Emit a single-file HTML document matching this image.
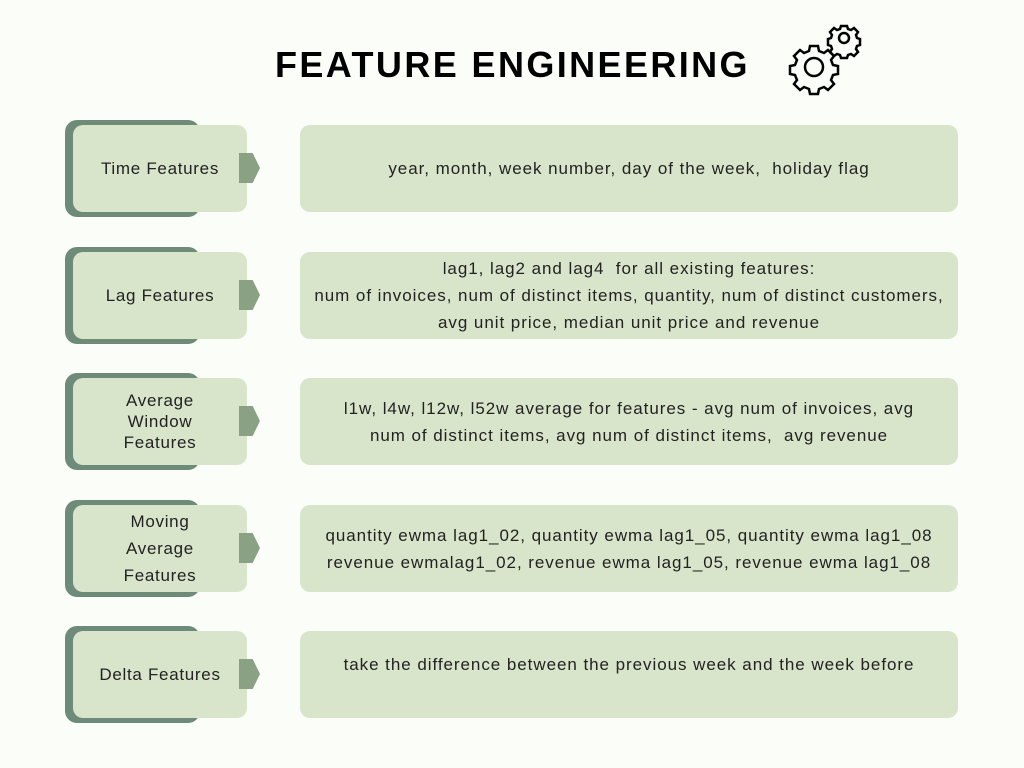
<!DOCTYPE html>
<html><head><meta charset="utf-8"><style>
body{margin:0;width:1024px;height:768px;background:#fbfdf8;position:relative;overflow:hidden;font-family:"Liberation Sans","DejaVu Sans",sans-serif;color:#222}
.t{position:absolute;left:275px;top:44px;font-weight:bold;font-size:36px;letter-spacing:2.4px;color:#000;white-space:nowrap}
.d{position:absolute;left:65px;width:135px;height:97px;background:#6e8a78;border-radius:12px}
.l{position:absolute;left:73px;width:174px;height:87px;background:#d9e5cb;border-radius:10px;display:flex;align-items:center;justify-content:center;text-align:center;font-size:17px;line-height:21px;letter-spacing:0.7px}
.a{position:absolute;left:239px;width:21px;height:30px;background:#8aa184;clip-path:polygon(0 0,65% 0,100% 50%,65% 100%,0 100%)}
.r{position:absolute;left:300px;width:658px;height:87px;background:#d9e5cb;border-radius:10px;display:flex;align-items:center;justify-content:center;text-align:center;font-size:17px;line-height:27px;letter-spacing:0.95px;white-space:nowrap}
</style></head><body>
<div class="t">FEATURE ENGINEERING</div>
<svg style="position:absolute;left:780px;top:20px" width="90" height="80" viewBox="780 20 90 80">
<g fill="none" stroke="#000" stroke-width="2.5">
<circle cx="814" cy="67" r="9"/>
<path d="M810 46h8l1 5 5 2 4-3 6 6-3 4 2 5 5 1v8l-5 1-2 5 3 4-6 6-4-3-5 2-1 5h-8l-1-5-5-2-4 3-6-6 3-4-2-5-5-1v-8l5-1 2-5-3-4 6-6 4 3 5-2z"/>
<circle cx="844" cy="38" r="5"/>
<path d="M841 26h6l1 3 3 1 3-2 4 4-2 3 1 3 3 1v6l-3 1-1 3 2 3-4 4-3-2-3 1-1 3h-6l-1-3-3-1-3 2-4-4 2-3-1-3-3-1v-6l3-1 1-3-2-3 4-4 3 2 3-1z"/>
</g></svg>

<div class="d" style="top:120px"></div><div class="l" style="top:125px">Time Features</div><div class="a" style="top:153px"></div>
<div class="r" style="top:125px">year, month, week number, day of the week,&nbsp; holiday flag</div>

<div class="d" style="top:247px"></div><div class="l" style="top:252px">Lag Features</div><div class="a" style="top:280px"></div>
<div class="r" style="top:252px">lag1, lag2 and lag4&nbsp; for all existing features:<br>num of invoices, num of distinct items, quantity, num of distinct customers,<br>avg unit price, median unit price and revenue</div>

<div class="d" style="top:373px"></div><div class="l" style="top:378px">Average<br>Window<br>Features</div><div class="a" style="top:406px"></div>
<div class="r" style="top:378px">l1w, l4w, l12w, l52w average for features - avg num of invoices, avg<br>num of distinct items, avg num of distinct items,&nbsp; avg revenue</div>

<div class="d" style="top:500px"></div><div class="l" style="top:505px;line-height:27px">Moving<br>Average<br>Features</div><div class="a" style="top:533px"></div>
<div class="r" style="top:505px">quantity ewma lag1_02, quantity ewma lag1_05, quantity ewma lag1_08<br>revenue ewmalag1_02, revenue ewma lag1_05, revenue ewma lag1_08</div>

<div class="d" style="top:626px"></div><div class="l" style="top:631px">Delta Features</div><div class="a" style="top:659px"></div>
<div class="r" style="top:631px;align-items:flex-start;padding-top:20px;height:67px">take the difference between the previous week and the week before</div>
</body></html>
